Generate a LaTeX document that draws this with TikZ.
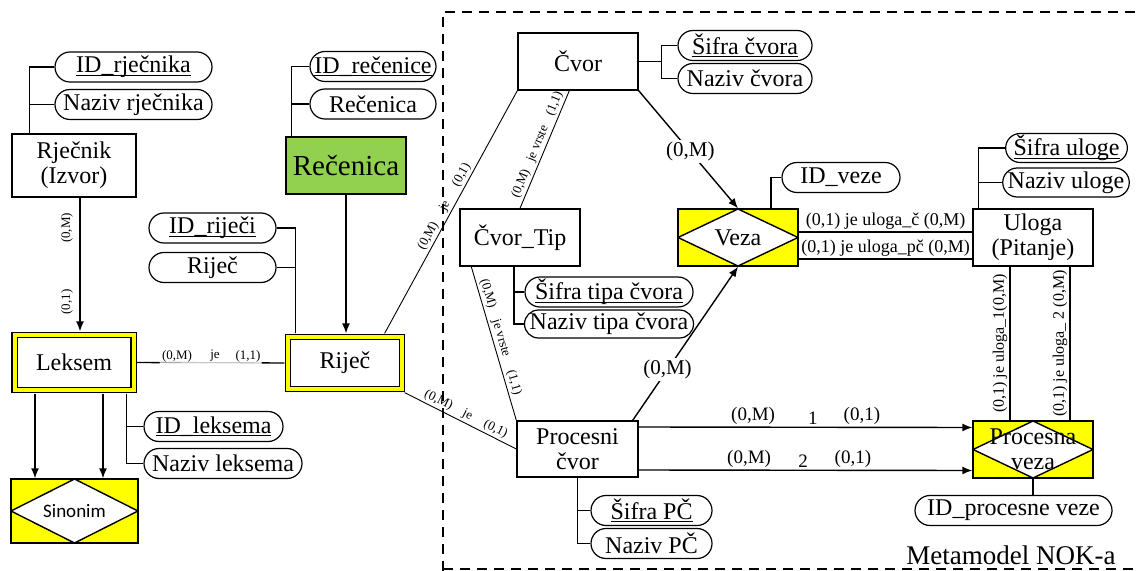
\documentclass[tikz,border=0pt]{standalone}
\usepackage{fontspec}
\setmainfont{Liberation Serif}
\newfontfamily\sinfont{Carlito}
\usetikzlibrary{arrows.meta,shapes.misc,calc}
\definecolor{recgreen}{HTML}{92D050}
\definecolor{relyellow}{HTML}{FFFF00}
\newcommand{\myul}[1]{\setbox0\hbox{#1}\rlap{\rule[-1.6pt]{\wd0}{0.55pt}}\box0}
\begin{document}
\begin{tikzpicture}[x=0.5pt,y=-0.5pt,
 ent/.style={draw,line width=0.7pt,inner sep=0pt,align=center,fill=white,minimum width=60pt,minimum height=28.5pt,font=\fontsize{12}{12.5}\selectfont},
 dbl/.style={ent,double=relyellow,double distance=2pt,line width=0.6pt},
 rel/.style={ent,fill=relyellow,path picture={\draw[line width=0.7pt,fill=white] (path picture bounding box.north) -- (path picture bounding box.east) -- (path picture bounding box.south) -- (path picture bounding box.west) -- cycle;}},
 attr/.style={draw,rounded rectangle,line width=0.6pt,inner sep=0pt,minimum height=15pt,fill=white,font=\fontsize{12}{13}\selectfont},
 att/.style={draw,line width=0.7pt},
 conn/.style={draw,line width=0.7pt},
 rl/.style={draw,line width=0.45pt},
 arr/.style={draw,line width=0.7pt,-{Latex[length=5pt,width=4pt]}},
 lab/.style={inner sep=1pt,font=\fontsize{6.5}{7}\selectfont},
 labm/.style={inner sep=1pt,font=\fontsize{9}{10}\selectfont},
 labv/.style={inner sep=1pt,font=\fontsize{8}{9}\selectfont},
 labn/.style={inner sep=1pt,font=\fontsize{9.5}{10}\selectfont},
 labb/.style={inner sep=1pt,fill=white,font=\fontsize{10.5}{11}\selectfont},
]
\useasboundingbox (0,0) rectangle (1138,571);

% frame
\draw[line width=0.6pt,dash pattern=on 5pt off 3.5pt] (443,571) -- (443,12) -- (1138,12);
\draw[line width=0.6pt,dash pattern=on 5pt off 3.5pt] (443,569) -- (1138,569);
\node[font=\fontsize{13.5}{14}\selectfont, inner sep=0pt] (meta) at (1011,555) {Metamodel NOK-a};

% entities
\node[ent, minimum width=62pt, minimum height=31.5pt] (rjecnik) at (74,165.5) {Rječnik\\(Izvor)};
\node[ent, fill=recgreen, font=\fontsize{14.5}{16}\selectfont] (recenica) at (346,165.5) {Rečenica};
\node[dbl, minimum width=59.5pt, minimum height=27.5pt] (leksem) at (74,362.5) {Leksem};
\node[dbl, minimum width=57pt, minimum height=26pt] (rijec) at (345,363) {Riječ};
\node[ent] (cvor) at (578,61.5) {Čvor};
\node[ent] (cvortip) at (520,237.5) {Čvor\_Tip};
\node[ent, minimum width=60.5pt, minimum height=28pt] (pcvor) at (577.5,449) {Procesni\\čvor};
\node[ent] (uloga) at (1033,237.5) {Uloga\\(Pitanje)};
\node[rel] (veza) at (738,237.5) {Veza};
\node[rel] (pveza) at (1033,449.5) {Procesna\\veza};
\node[rel, minimum width=63.5pt, minimum height=32pt, font=\sinfont\fontsize{9.5}{11}\selectfont] (sinonim) at (74.5,511) {Sinonim};

% attributes
\node[attr, minimum width=78.5pt] (aidrj) at (133.5,67) {\myul{ID\_rječnika}};
\node[attr, minimum width=78.5pt] (anzrj) at (133.5,104.5) {Naziv rječnika};
\node[attr, minimum width=63pt] (aidrec) at (373,66.5) {\myul{ID\_rečenice}};
\node[attr, minimum width=63pt] (anzrec) at (373,104) {Rečenica};
\node[attr, minimum width=63.5pt] (aidri) at (212.5,228) {\myul{ID\_riječi}};
\node[attr, minimum width=63.5pt] (anzri) at (212.5,267.5) {Riječ};
\node[attr, minimum width=69.5pt] (aidlek) at (213.5,426.5) {\myul{ID\_leksema}};
\node[attr, minimum width=79pt] (anzlek) at (223,463.5) {Naziv leksema};
\node[attr, minimum width=67pt] (asc) at (745,45.5) {\myul{Šifra čvora}};
\node[attr, minimum width=67pt] (anc) at (745,78.5) {Naziv čvora};
\node[attr, minimum width=59pt] (aidv) at (841,177.5) {ID\_veze};
\node[attr, minimum width=59.5pt, minimum height=14.5pt] (asu) at (1066.5,148) {\myul{Šifra uloge}};
\node[attr, minimum width=60pt, minimum height=14.5pt] (anu) at (1066,182.5) {Naziv uloge};
\node[attr, minimum width=84pt] (astc) at (609,292) {\myul{Šifra tipa čvora}};
\node[attr, minimum width=84pt, minimum height=14pt] (antc) at (609,324) {Naziv tipa čvora};
\node[attr, minimum width=60.5pt] (aspc) at (651.5,510.5) {\myul{Šifra PČ}};
\node[attr, minimum width=60.5pt] (anpc) at (651.5,543.5) {Naziv PČ};
\node[attr, minimum width=98.5pt] (aidpv) at (1013.5,510.5) {ID\_procesne veze};

% attribute links
\draw[att] ([xshift=9pt]rjecnik.north west) |- (aidrj.west);
\draw[att] ([xshift=9pt]rjecnik.north west) |- (anzrj.west);
\draw[att] ([xshift=3pt]recenica.north west) |- (aidrec.west);
\draw[att] ([xshift=3pt]recenica.north west) |- (anzrec.west);
\draw[att] ([xshift=4pt,yshift=1.5pt]rijec.north west) |- (aidri.east);
\draw[att] ([xshift=4pt,yshift=1.5pt]rijec.north west) |- (anzri.east);
\draw[att] ([xshift=-3.75pt,yshift=-1.5pt]leksem.south east) |- (aidlek.west);
\draw[att] ([xshift=-3.75pt,yshift=-1.5pt]leksem.south east) |- (anzlek.west);
\draw[att] (cvor.east) -- ++(23,0) |- (asc.west);
\draw[att] (cvor.east) ++(23,0) |- (anc.west);
\draw[att] ([xshift=16.5pt]veza.north) |- (aidv.west);
\draw[att] ([xshift=3pt]uloga.north west) |- (asu.west);
\draw[att] ([xshift=3pt]uloga.north west) |- (anu.west);
\draw[att] ([xshift=-3pt]cvortip.south) |- (astc.west);
\draw[att] ([xshift=-3pt]cvortip.south) |- (antc.west);
\draw[att] (pcvor.south) |- (aspc.west);
\draw[att] (pcvor.south) |- (anpc.west);
\draw[att] (pveza.south) -- (pveza.south |- aidpv.north);

% Rjecnik -> Leksem
\draw[arr] ([xshift=3pt]rjecnik.south) -- ([xshift=3pt,yshift=1.5pt]leksem.north);
\node[lab, rotate=90] at (67,228) {(0,M)};
\node[lab, rotate=90] at (67,302) {(0,1)};

% Recenica -> Rijec
\draw[arr] (recenica.south) -- ([yshift=1.5pt]recenica.south |- rijec.north);

% Leksem -- Rijec
\draw[conn] ([xshift=1.5pt]leksem.east) -- coordinate[pos=0.155](lk1) coordinate[pos=0.845](lk2) ([xshift=-1.5pt]rijec.west);
\draw[white, line width=1.2pt] (lk1) -- (lk2);
\draw[black!35, line width=0.4pt] (lk1) -- (lk2);
\node[lab] at (177,356) {(0,M)};
\node[lab] at (215,356) {je};
\node[lab] at (248,356) {(1,1)};

% Leksem -> Sinonim
\draw[arr] ([xshift=-19.5pt,yshift=-1.5pt]leksem.south) -- ([xshift=-19.75pt]sinonim.north);
\draw[arr] ([xshift=14.5pt,yshift=-1.5pt]leksem.south) -- ([xshift=14.25pt]sinonim.north);

% Rijec -- Cvor
\draw[rl] ([xshift=-9pt,yshift=1.5pt]rijec.north east) --
  node[lab, sloped, above, pos=0.385] {(0,M)}
  node[lab, sloped, above, pos=0.51] {je}
  node[lab, sloped, above, pos=0.636] {(0,1)}
  (cvor.south west);

% CvorTip -- Cvor
\draw[rl] (cvortip.north) --
  node[lab, sloped, above, pos=0.18] {(0,M)}
  node[lab, sloped, above, pos=0.52] {je vrste}
  node[lab, sloped, above, pos=0.86] {(1,1)}
  ([xshift=26pt]cvor.south west);

% CvorTip -- Procesni
\draw[rl] ([xshift=6pt]cvortip.south west) --
  node[lab, sloped, above, pos=0.19] {(0,M)}
  node[lab, sloped, above, pos=0.48] {je vrste}
  node[lab, sloped, above, pos=0.77] {(1,1)}
  (pcvor.north west);

% Rijec -- Procesni
\draw[rl] ([xshift=1pt,yshift=-1.5pt]rijec.south east) --
  node[lab, sloped, above, pos=0.27] {(0,M)}
  node[lab, sloped, above, pos=0.53] {je}
  node[lab, sloped, above, pos=0.78] {(0,1)}
  (pcvor.west);

% Cvor -> Veza, Procesni -> Veza
\draw[arr] (cvor.south east) -- node[labb, pos=0.52] {(0,M)} (veza.north);
\draw[arr] ([xshift=-3pt]pcvor.north east) -- node[labb, pos=0.33] {(0,M)} (veza.south);

% Veza -- Uloga
\draw[conn] ([yshift=2.75pt]veza.east) -- node[labm, above] {(0,1) je uloga\_č (0,M)} ([yshift=2.75pt]uloga.west);
\draw[conn] ([yshift=-10.75pt]veza.east) -- node[labm, above] {(0,1) je uloga\_pč (0,M)} ([yshift=-10.75pt]uloga.west);

% Uloga -- Procesna veza
\draw[conn] ([xshift=-11.5pt]pveza.north) -- node[labv, sloped, above] {(0,1) je uloga\_1(0,M)} ([xshift=-11.5pt]uloga.south);
\draw[conn] ([xshift=18.5pt]pveza.north) -- node[labv, sloped, above] {(0,1) je uloga\_ 2 (0,M)} ([xshift=18.5pt]uloga.south);

% Procesni -> Procesna veza
\draw[arr] ([yshift=11pt]pcvor.east) --
  node[labn, above, pos=0.343] {(0,M)}
  node[labn, above, pos=0.522] {1}
  node[labn, above, pos=0.669] {(0,1)}
  ([yshift=11pt]pveza.west);
\draw[arr] ([yshift=-10.5pt]pcvor.east) --
  node[labn, above, pos=0.331] {(0,M)}
  node[labn, above, pos=0.493] {2}
  node[labn, above, pos=0.642] {(0,1)}
  ([yshift=-10.5pt]pveza.west);

\end{tikzpicture}
\end{document}
